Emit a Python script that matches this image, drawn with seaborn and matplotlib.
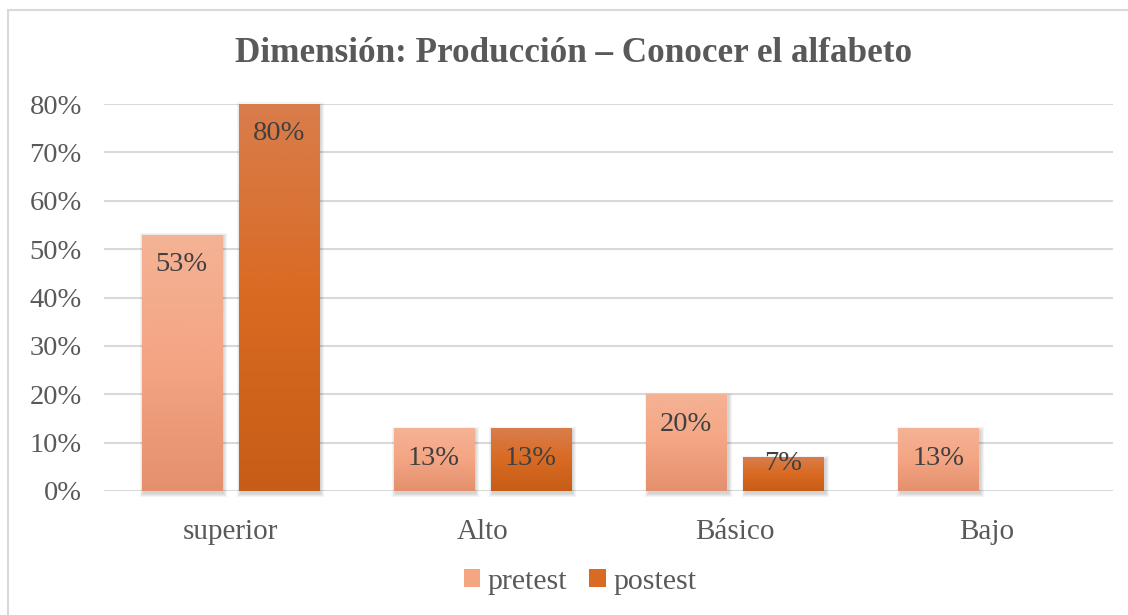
import numpy as np
import pandas as pd
import matplotlib
matplotlib.use("Agg")
import matplotlib.pyplot as plt
from matplotlib.colors import LinearSegmentedColormap
from matplotlib.patches import Rectangle
import seaborn as sns

# Data
categories = ["superior", "Alto", "Básico", "Bajo"]
pretest = [0.53, 0.13, 0.20, 0.13]
postest = [0.80, 0.13, 0.07, 0.00]
series_names = ["pretest", "postest"]
yticks = [0.0, 0.1, 0.2, 0.3, 0.4, 0.5, 0.6, 0.7, 0.8]

df = pd.DataFrame({
    "categoria": categories * 2,
    "serie": [series_names[0]] * len(categories) + [series_names[1]] * len(categories),
    "valor": pretest + postest,
})

sns.set_theme(style="white")
plt.rcParams["font.family"] = ["Liberation Serif", "DejaVu Serif"]

text_col = "#595959"
grid_col = "#D9D9D9"
# gradient colours per series, top -> bottom
grads = {
    "pretest": ["#F4B395", "#F4A583", "#E4906E"],
    "postest": ["#D97D4C", "#D96A22", "#C65D17"],
}
base_cols = {"pretest": "#F4A683", "postest": "#D86A22"}

fig = plt.figure(figsize=(11.28, 6.15), dpi=100)
ax = fig.add_axes([104 / 1128, 1 - 491 / 615, (1113 - 104) / 1128, (491 - 104) / 615])

sns.barplot(data=df, x="categoria", y="valor", hue="serie", order=categories,
            hue_order=series_names, palette=base_cols, width=0.77, ax=ax,
            legend=False, saturation=1)

ax.set_ylim(0, 0.8)
ax.set_xlim(-0.5, len(categories) - 0.5)
ax.set_yticks(yticks)
ax.set_yticklabels([f"{int(round(t * 100))}%" for t in yticks])
ax.yaxis.grid(True, color=grid_col, linewidth=1.5)
ax.set_axisbelow(True)
for s in ax.spines.values():
    s.set_visible(False)
ax.set_xlabel("")
ax.set_ylabel("")
ax.tick_params(axis="y", labelsize=20.5, labelcolor=text_col, pad=16, length=0)
ax.tick_params(axis="x", labelsize=21, labelcolor=text_col, pad=20, length=0)

px = 0.8 / 387.0       # data units per pixel on y
pxx = 4.0 / 1009.0     # data units per pixel on x
bar_w = 80 / 252.0

for cont, name in zip(ax.containers, series_names):
    cmap = LinearSegmentedColormap.from_list(name, grads[name][::-1])
    for patch, val in zip(cont.patches, cont.datavalues):
        cx = patch.get_x() + patch.get_width() / 2
        patch.set_x(cx - bar_w / 2)
        patch.set_width(bar_w)
        patch.set_edgecolor("none")
        if val <= 0:
            patch.set_visible(False)
            continue
        # soft shadow, mostly to the right and below
        for k in range(1, 5):
            ax.add_patch(Rectangle((cx - bar_w / 2 - (k - 2.5) * pxx, -(k + 1.5) * px),
                                   bar_w + (2 * k - 1) * pxx, val + (2 * k - 1) * px,
                                   facecolor="#000000", alpha=0.045, edgecolor="none",
                                   zorder=patch.get_zorder() - 0.05, clip_on=False))
        grad = np.linspace(0, 1, 256).reshape(-1, 1)
        im = ax.imshow(grad, cmap=cmap, origin="lower", aspect="auto",
                       extent=[cx - bar_w / 2, cx + bar_w / 2, 0, val],
                       zorder=patch.get_zorder() + 0.1)
        im.set_clip_path(patch)
        ytxt = max(val - 30 * px, 28 * px)
        ax.text(cx, ytxt, f"{int(round(val * 100))}%", ha="center", va="center",
                fontsize=20.5, color="#404040", zorder=5)

ax.set_ylim(0, 0.8)
ax.set_xlim(-0.5, len(categories) - 0.5)

fig.text(574 / 1128, 1 - 53 / 615, "Dimensión: Producción – Conocer el alfabeto",
         ha="center", va="center", fontsize=25.3, fontweight="bold", color=text_col)

handles = [Rectangle((0, 0), 1, 1, facecolor=base_cols[n], edgecolor="none") for n in series_names]
fig.legend(handles, series_names, loc="center", bbox_to_anchor=(580 / 1128, 1 - 582 / 615),
           ncol=2, frameon=False, fontsize=21.5, labelcolor=text_col,
           handlelength=0.55, handleheight=0.55, handletextpad=0.25, columnspacing=0.75)

# chart border
fig.add_artist(Rectangle((8 / 1128, -0.01), 1.2, 1 - 10 / 615 + 0.01, transform=fig.transFigure,
                         fill=False, edgecolor="#D9D9D9", linewidth=1.5))

fig.savefig("out.png", dpi=100)
